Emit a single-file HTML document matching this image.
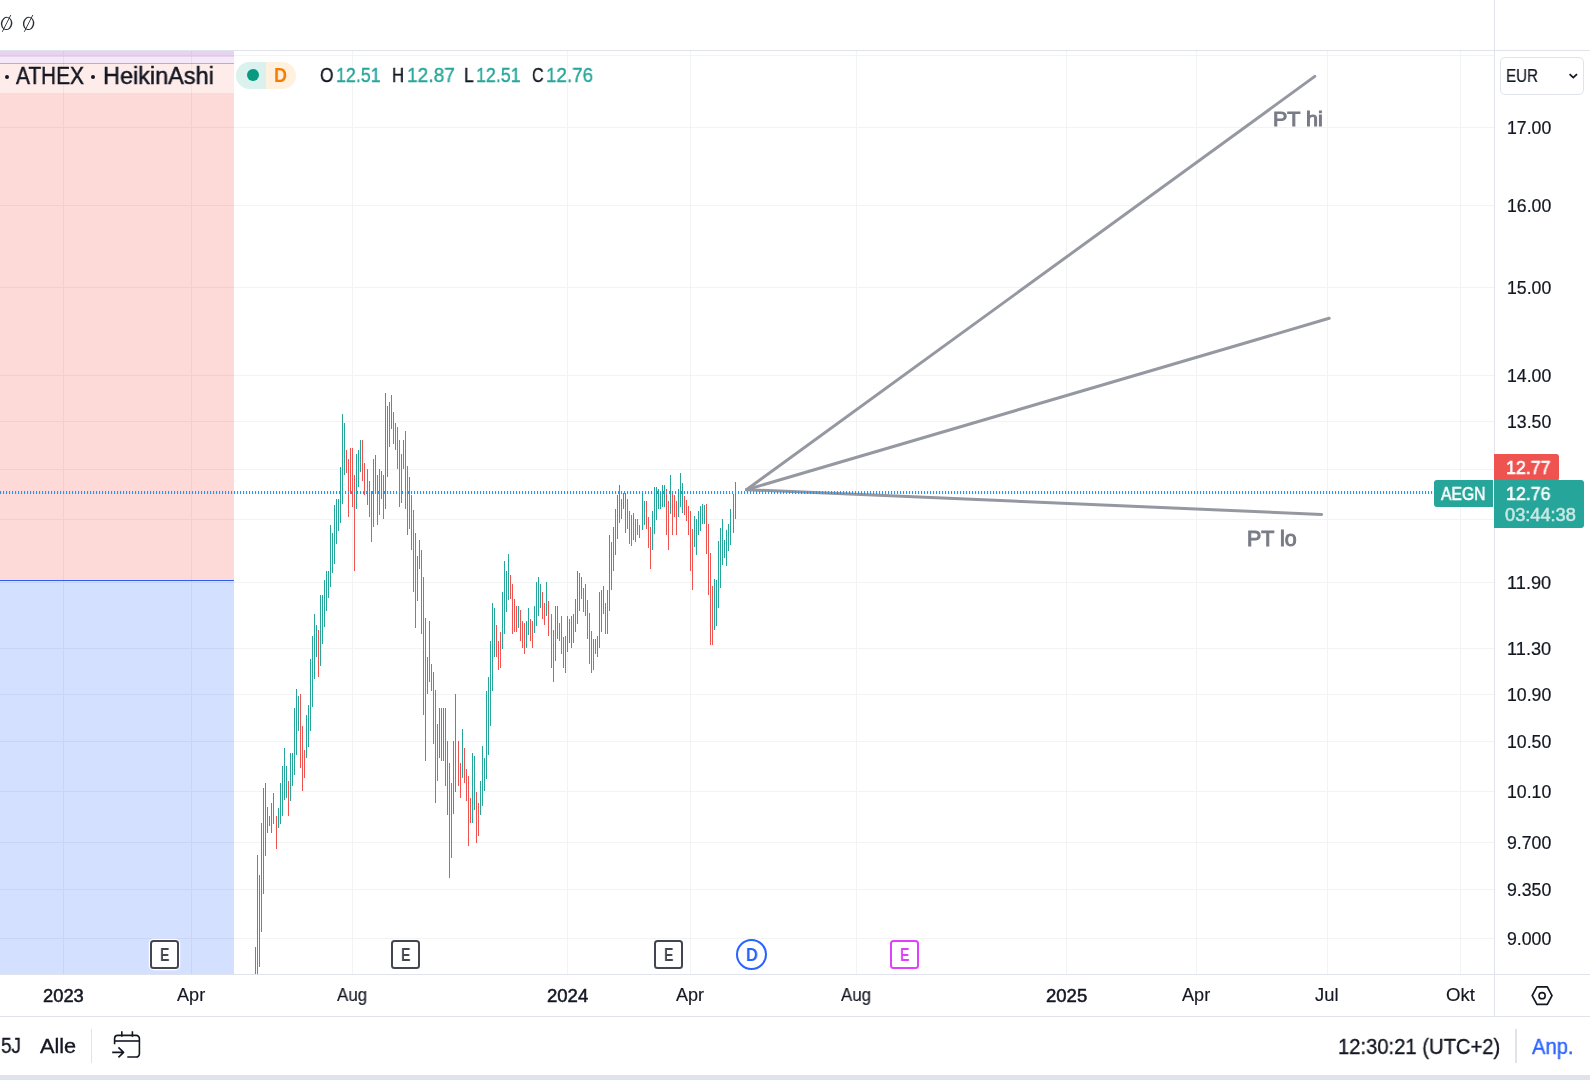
<!DOCTYPE html>
<html><head><meta charset="utf-8"><title>chart</title>
<style>
*{margin:0;padding:0;box-sizing:border-box}
html,body{width:1590px;height:1080px;overflow:hidden;background:#fff}
body{font-family:"Liberation Sans",sans-serif;color:#131722;position:relative}
.t{position:absolute;white-space:nowrap;transform-origin:0 0;will-change:transform}
.chart{position:absolute;left:0;top:51px}
.hl{position:absolute;height:1px;background:#e0e3eb;left:0}
.vl{position:absolute;width:1px;background:#e0e3eb}
.ev{position:absolute;top:940.3px;width:28.5px;height:28.5px;border:2px solid #434651;border-radius:3.5px;background:#fff;box-shadow:0 0 0 1.2px #fff}
</style></head><body>

<svg style="position:absolute;left:0;top:10px" width="40" height="28" viewBox="0 10 40 28"><g transform="rotate(9 6.6 23.4)"><path fill="#2a2e39" fill-rule="evenodd" d="M0.8999999999999995 23.4a5.7 6.6 0 1 0 11.4 0a5.7 6.6 0 1 0 -11.4 0ZM2.3499999999999996 23.4a4.25 5.75 0 1 1 8.5 0a4.25 5.75 0 1 1 -8.5 0Z"/></g><path d="M2.3 31.799999999999997L10.8 14.999999999999998" stroke="#2a2e39" stroke-width="0.9" fill="none"/><g transform="rotate(9 28.6 23.4)"><path fill="#2a2e39" fill-rule="evenodd" d="M22.900000000000002 23.4a5.7 6.6 0 1 0 11.4 0a5.7 6.6 0 1 0 -11.4 0ZM24.35 23.4a4.25 5.75 0 1 1 8.5 0a4.25 5.75 0 1 1 -8.5 0Z"/></g><path d="M24.3 31.799999999999997L32.800000000000004 14.999999999999998" stroke="#2a2e39" stroke-width="0.9" fill="none"/></svg>
<div class="hl" style="top:50px;width:1590px"></div>
<svg class="chart" width="1494" height="923" viewBox="0 51 1494 923">
<rect x="0" y="51" width="234" height="529" fill="#f44336" fill-opacity="0.2"/>
<rect x="0" y="581" width="234" height="393" fill="#2962ff" fill-opacity="0.2"/>
<rect x="0" y="580" width="234" height="1" fill="#2f5ff2"/>
<rect x="0" y="51" width="234" height="6" fill="#e8d3ef"/>
<rect x="0" y="57" width="234" height="6" fill="#f5e8f8"/>
<rect x="0" y="63" width="234" height="1" fill="#f59a94"/>
<rect x="0" y="64" width="234" height="29" fill="#ffffff" fill-opacity="0.5"/>
<path d="M0 55.5H1494M0 127.5H1494M0 205.5H1494M0 287.5H1494M0 375.5H1494M0 421.5H1494M0 469.5H1494M0 519.5H1494M0 582.5H1494M0 648.5H1494M0 694.5H1494M0 741.5H1494M0 791.5H1494M0 842.5H1494M0 889.5H1494M0 938.5H1494M63.5 51V974M191.5 51V974M352.5 51V974M567.5 51V974M690.5 51V974M856.5 51V974M1066.5 51V974M1196.5 51V974M1327.5 51V974M1460.5 51V974" stroke="#2a2e39" stroke-opacity="0.058" stroke-width="1" fill="none" shape-rendering="crispEdges"/>
<path d="M255.5 947V974M257.5 855V974M259.5 875V967M261.5 823V932M263.5 788V894M265.5 783V856M267.5 807V833M269.5 816V826M271.5 803V833M273.5 793V824M278.5 808V828M280.5 783V824M282.5 766V816M284.5 748V800M286.5 766V798M290.5 753V801M292.5 753V786M294.5 708V775M296.5 689V755M298.5 696V731M306.5 715V758M308.5 705V747M310.5 659V731M312.5 636V707M314.5 614V679M316.5 625V657M320.5 595V666M322.5 595V644M324.5 580V627M326.5 571V611M328.5 571V598M330.5 525V587M332.5 533V573M334.5 505V564M336.5 499V544M338.5 499V531M340.5 467V523M342.5 414V504M344.5 423V475M356.5 454V509M358.5 450V487M360.5 440V472M373.5 459V527M375.5 455V492M381.5 471V499M385.5 393V509M387.5 406V477M389.5 402V447M391.5 395V429M403.5 440V469M419.5 540V569M429.5 621V682M439.5 708V758M443.5 708V761M453.5 741V814M455.5 694V792M462.5 729V778M472.5 753V823M474.5 756V810M480.5 781V815M482.5 746V806M484.5 758V791M486.5 691V779M488.5 677V755M490.5 641V726M492.5 603V691M494.5 608V657M502.5 592V649M504.5 561V634M506.5 571V612M508.5 554V600M518.5 606V628M526.5 621V648M528.5 608V635M534.5 606V633M536.5 582V626M538.5 577V616M540.5 584V608M546.5 582V616M555.5 606V661M557.5 606V639M567.5 616V652M569.5 619V643M571.5 616V648M573.5 614V643M575.5 599V632M577.5 571V624M579.5 573V611M581.5 577V599M597.5 636V657M599.5 592V648M601.5 590V632M603.5 586V614M609.5 535V611M611.5 542V590M613.5 527V571M615.5 509V555M617.5 495V539M619.5 485V523M621.5 499V519M623.5 493V509M642.5 492V530M644.5 501V525M652.5 511V550M654.5 487V534M656.5 487V520M658.5 489V509M660.5 492V509M662.5 485V507M664.5 485V507M670.5 475V514M678.5 489V517M680.5 473V507M682.5 483V513M694.5 516V547M696.5 519V555M698.5 511V535M700.5 506V531M702.5 504V524M704.5 505V524M714.5 579V630M716.5 580V626M718.5 541V608M720.5 528V588M722.5 519V565M724.5 540V558M726.5 530V566M728.5 524V551M730.5 509V545M733.5 494V533M735.5 482V519" stroke="#26a69a" stroke-width="1" fill="none" shape-rendering="crispEdges"/>
<path d="M276.5 816V849M288.5 781V816M300.5 694V768M302.5 726V791M304.5 750V778M318.5 630V677M346.5 450V473M348.5 459V517M350.5 448V494M352.5 448V507M354.5 475V571M362.5 440V481M364.5 463V495M367.5 469V505M369.5 481V517M371.5 491V542M377.5 475V525M379.5 469V515M383.5 475V519M393.5 412V444M395.5 423V450M397.5 427V469M399.5 440V507M401.5 454V503M405.5 431V509M407.5 466V535M409.5 477V529M411.5 495V550M413.5 510V592M415.5 533V628M417.5 556V601M421.5 550V634M423.5 577V715M425.5 618V761M427.5 657V694M431.5 664V691M433.5 672V744M435.5 690V803M437.5 724V781M441.5 708V761M445.5 708V786M447.5 741V815M449.5 763V878M451.5 783V858M458.5 741V786M460.5 763V798M464.5 748V783M466.5 769V801M468.5 776V846M470.5 798V823M476.5 792V843M478.5 803V836M496.5 625V657M498.5 641V670M500.5 632V668M510.5 575V599M512.5 584V634M514.5 599V632M516.5 606V632M520.5 610V641M522.5 621V648M524.5 623V654M530.5 619V641M532.5 621V648M542.5 592V619M544.5 603V625M548.5 601V636M551.5 614V668M553.5 630V682M559.5 623V641M561.5 616V654M563.5 637V668M565.5 636V673M583.5 588V612M585.5 584V616M587.5 600V639M589.5 613V664M591.5 631V673M593.5 639V670M595.5 639V654M605.5 603V634M607.5 590V634M625.5 493V533M627.5 499V529M629.5 511V544M631.5 515V546M633.5 513V540M635.5 519V542M637.5 519V535M639.5 525V538M646.5 501V529M648.5 517V548M650.5 527V569M666.5 489V535M668.5 501V550M672.5 494V535M674.5 495V517M676.5 501V535M684.5 496V515M686.5 500V521M688.5 506V535M690.5 511V571M692.5 529V590M706.5 504V554M708.5 524V595M710.5 553V645M712.5 586V645" stroke="#ef5350" stroke-width="1" fill="none" shape-rendering="crispEdges"/>
<g stroke="#9598a1" stroke-width="3" stroke-linecap="round" fill="none"><path d="M746.5 489.7L1314.8 76.4"/><path d="M746.5 489.7L1329.2 318.3"/><path d="M746.5 489.7L1321.6 514.4"/></g>
<defs><pattern id="dp" x="0" y="491" width="3" height="3" patternUnits="userSpaceOnUse"><rect x="0" y="0" width="1.1" height="1" fill="#ef5350"/><rect x="0" y="1" width="1.1" height="1" fill="#2196f3"/><rect x="0" y="2" width="1.1" height="0.9" fill="#149a8c"/></pattern></defs>
<rect x="0" y="491" width="1494" height="3" fill="url(#dp)"/>
</svg>
<div class="vl" style="left:1494px;top:0;height:1016px"></div>
<div class="hl" style="top:974px;width:1590px"></div>
<div class="hl" style="top:1016px;width:1590px"></div>
<div style="position:absolute;left:0;top:1075px;width:1590px;height:5px;background:#e0e3eb"></div>
<div style="position:absolute;left:5.3px;top:74.8px;width:4.2px;height:4.2px;border-radius:50%;background:#131722"></div>
<div style="position:absolute;left:90.8px;top:74.8px;width:4.2px;height:4.2px;border-radius:50%;background:#131722"></div>
<div class="t" style="left:16.40px;top:63.93px;font-size:24.42px;line-height:24.42px;color:#131722;transform:scaleX(0.8542);-webkit-text-stroke:0.5px #131722;">ATHEX</div>
<div class="t" style="left:102.70px;top:63.93px;font-size:24.42px;line-height:24.42px;color:#131722;transform:scaleX(0.9614);-webkit-text-stroke:0.5px #131722;">HeikinAshi</div>
<div style="position:absolute;left:236px;top:62px;width:59.5px;height:27px;border-radius:13.5px;overflow:hidden;background:linear-gradient(90deg,#daf1ed 0,#daf1ed 30px,#fff1de 30px,#fff1de 60px)"><span style="position:absolute;left:10.7px;top:7px;width:12px;height:12px;border-radius:6px;background:#089981"></span></div>
<div class="t" style="left:274.00px;top:66.21px;font-size:19.48px;line-height:19.48px;color:#f57c00;font-weight:bold;transform:scaleX(0.9245);">D</div>
<div class="t" style="left:320.20px;top:66.14px;font-size:19.91px;line-height:19.91px;color:#131722;transform:scaleX(0.8714);-webkit-text-stroke:0.4px #131722;">O</div>
<div class="t" style="left:336.30px;top:66.14px;font-size:19.91px;line-height:19.91px;color:#26a69a;transform:scaleX(0.8952);-webkit-text-stroke:0.4px #26a69a;">12.51</div>
<div class="t" style="left:392.40px;top:66.14px;font-size:19.91px;line-height:19.91px;color:#131722;transform:scaleX(0.8416);-webkit-text-stroke:0.4px #131722;">H</div>
<div class="t" style="left:407.00px;top:66.14px;font-size:19.91px;line-height:19.91px;color:#26a69a;transform:scaleX(0.9614);-webkit-text-stroke:0.4px #26a69a;">12.87</div>
<div class="t" style="left:464.00px;top:66.14px;font-size:19.91px;line-height:19.91px;color:#131722;transform:scaleX(0.8761);-webkit-text-stroke:0.4px #131722;">L</div>
<div class="t" style="left:476.30px;top:66.14px;font-size:19.91px;line-height:19.91px;color:#26a69a;transform:scaleX(0.8952);-webkit-text-stroke:0.4px #26a69a;">12.51</div>
<div class="t" style="left:531.90px;top:66.14px;font-size:19.91px;line-height:19.91px;color:#131722;transform:scaleX(0.8068);-webkit-text-stroke:0.4px #131722;">C</div>
<div class="t" style="left:546.10px;top:66.14px;font-size:19.91px;line-height:19.91px;color:#26a69a;transform:scaleX(0.9434);-webkit-text-stroke:0.4px #26a69a;">12.76</div>
<div style="position:absolute;left:1500px;top:57px;width:84px;height:38px;border:1px solid #e0e3eb;border-radius:5px"></div>
<div class="t" style="left:1505.80px;top:66.63px;font-size:18.75px;line-height:18.75px;color:#131722;transform:scaleX(0.8085);-webkit-text-stroke:0.2px #131722;">EUR</div>
<svg style="position:absolute;left:1566px;top:70px" width="14" height="12" viewBox="1566 70 14 12"><path d="M1569.6 74.2L1573.3 77.6L1577 74.2" stroke="#131722" stroke-width="1.8" fill="none"/></svg>
<div class="t" style="left:1506.70px;top:120.20px;font-size:17.71px;line-height:17.71px;color:#131722;transform:scaleX(0.9995);-webkit-text-stroke:0.2px #131722;">17.00</div>
<div class="t" style="left:1506.70px;top:198.20px;font-size:17.71px;line-height:17.71px;color:#131722;transform:scaleX(0.9995);-webkit-text-stroke:0.2px #131722;">16.00</div>
<div class="t" style="left:1506.70px;top:280.20px;font-size:17.71px;line-height:17.71px;color:#131722;transform:scaleX(0.9995);-webkit-text-stroke:0.2px #131722;">15.00</div>
<div class="t" style="left:1506.70px;top:368.20px;font-size:17.71px;line-height:17.71px;color:#131722;transform:scaleX(0.9995);-webkit-text-stroke:0.2px #131722;">14.00</div>
<div class="t" style="left:1506.70px;top:414.20px;font-size:17.71px;line-height:17.71px;color:#131722;transform:scaleX(0.9995);-webkit-text-stroke:0.2px #131722;">13.50</div>
<div class="t" style="left:1506.70px;top:575.20px;font-size:17.71px;line-height:17.71px;color:#131722;transform:scaleX(1.0300);-webkit-text-stroke:0.2px #131722;">11.90</div>
<div class="t" style="left:1506.70px;top:641.20px;font-size:17.71px;line-height:17.71px;color:#131722;transform:scaleX(1.0300);-webkit-text-stroke:0.2px #131722;">11.30</div>
<div class="t" style="left:1506.70px;top:687.20px;font-size:17.71px;line-height:17.71px;color:#131722;transform:scaleX(0.9995);-webkit-text-stroke:0.2px #131722;">10.90</div>
<div class="t" style="left:1506.70px;top:734.20px;font-size:17.71px;line-height:17.71px;color:#131722;transform:scaleX(0.9995);-webkit-text-stroke:0.2px #131722;">10.50</div>
<div class="t" style="left:1506.70px;top:784.20px;font-size:17.71px;line-height:17.71px;color:#131722;transform:scaleX(0.9995);-webkit-text-stroke:0.2px #131722;">10.10</div>
<div class="t" style="left:1506.70px;top:835.20px;font-size:17.71px;line-height:17.71px;color:#131722;transform:scaleX(0.9995);-webkit-text-stroke:0.2px #131722;">9.700</div>
<div class="t" style="left:1506.70px;top:882.20px;font-size:17.71px;line-height:17.71px;color:#131722;transform:scaleX(0.9995);-webkit-text-stroke:0.2px #131722;">9.350</div>
<div class="t" style="left:1506.70px;top:931.20px;font-size:17.71px;line-height:17.71px;color:#131722;transform:scaleX(0.9995);-webkit-text-stroke:0.2px #131722;">9.000</div>
<div style="position:absolute;left:1494px;top:454px;width:65px;height:27px;background:#ef5350;border-radius:0 3px 3px 0"></div>
<div style="position:absolute;left:1494px;top:480px;width:90px;height:48px;background:#26a69a;border-radius:0 3px 3px 0"></div>
<div style="position:absolute;left:1434px;top:480px;width:59px;height:27px;background:#26a69a;border-radius:3px 0 0 3px"></div>
<div class="t" style="left:1506.40px;top:459.36px;font-size:18.00px;line-height:18.00px;color:#fff;transform:scaleX(0.9881);-webkit-text-stroke:0.55px #fff;">12.77</div>
<div class="t" style="left:1441.30px;top:484.80px;font-size:18.31px;line-height:18.31px;color:#fff;transform:scaleX(0.8555);-webkit-text-stroke:0.55px #fff;">AEGN</div>
<div class="t" style="left:1506.40px;top:485.06px;font-size:18.00px;line-height:18.00px;color:#fff;transform:scaleX(0.9881);-webkit-text-stroke:0.55px #fff;">12.76</div>
<div class="t" style="left:1505.40px;top:506.85px;font-size:17.43px;line-height:17.43px;color:#c8e8e4;transform:scaleX(1.0450);-webkit-text-stroke:0.5px #c8e8e4;">03:44:38</div>
<div class="t" style="left:1273.00px;top:108.78px;font-size:20.93px;line-height:20.93px;color:#787b86;transform:scaleX(1.0294);-webkit-text-stroke:1.0px #787b86;">PT hi</div>
<div class="t" style="left:1247.40px;top:527.94px;font-size:21.22px;line-height:21.22px;color:#787b86;transform:scaleX(1.0092);-webkit-text-stroke:1.0px #787b86;">PT lo</div>
<div class="ev" style="left:150.40px"></div>
<div class="t" style="left:159.95px;top:945.85px;font-size:18.60px;line-height:18.60px;color:#434651;font-weight:bold;transform:scaleX(0.7656);">E</div>
<div class="ev" style="left:391.25px"></div>
<div class="t" style="left:400.80px;top:945.85px;font-size:18.60px;line-height:18.60px;color:#434651;font-weight:bold;transform:scaleX(0.7656);">E</div>
<div class="ev" style="left:654.20px"></div>
<div class="t" style="left:663.75px;top:945.85px;font-size:18.60px;line-height:18.60px;color:#434651;font-weight:bold;transform:scaleX(0.7656);">E</div>
<div class="ev" style="left:890.15px;border-color:#e040fb"></div>
<div class="t" style="left:899.70px;top:945.85px;font-size:18.60px;line-height:18.60px;color:#e040fb;font-weight:bold;transform:scaleX(0.7656);">E</div>
<div style="position:absolute;left:736px;top:938.8px;width:31px;height:31px;border:2px solid #2962ff;border-radius:16px;background:#fff"></div>
<div class="t" style="left:745.70px;top:945.85px;font-size:18.60px;line-height:18.60px;color:#2962ff;font-weight:bold;transform:scaleX(0.8859);">D</div>
<div class="t" style="left:42.60px;top:987.53px;font-size:17.57px;line-height:17.57px;color:#131722;transform:scaleX(1.0436);-webkit-text-stroke:0.5px #131722;">2023</div>
<div class="t" style="left:176.60px;top:987.27px;font-size:17.88px;line-height:17.88px;color:#131722;transform:scaleX(1.0137);-webkit-text-stroke:0.15px #131722;">Apr</div>
<div class="t" style="left:337.40px;top:987.27px;font-size:17.88px;line-height:17.88px;color:#131722;transform:scaleX(0.9495);-webkit-text-stroke:0.15px #131722;">Aug</div>
<div class="t" style="left:546.80px;top:987.53px;font-size:17.57px;line-height:17.57px;color:#131722;transform:scaleX(1.0538);-webkit-text-stroke:0.5px #131722;">2024</div>
<div class="t" style="left:676.10px;top:987.27px;font-size:17.88px;line-height:17.88px;color:#131722;transform:scaleX(1.0101);-webkit-text-stroke:0.15px #131722;">Apr</div>
<div class="t" style="left:840.70px;top:987.27px;font-size:17.88px;line-height:17.88px;color:#131722;transform:scaleX(0.9464);-webkit-text-stroke:0.15px #131722;">Aug</div>
<div class="t" style="left:1045.80px;top:987.53px;font-size:17.57px;line-height:17.57px;color:#131722;transform:scaleX(1.0538);-webkit-text-stroke:0.5px #131722;">2025</div>
<div class="t" style="left:1182.10px;top:987.27px;font-size:17.88px;line-height:17.88px;color:#131722;transform:scaleX(1.0137);-webkit-text-stroke:0.15px #131722;">Apr</div>
<div class="t" style="left:1315.20px;top:987.27px;font-size:17.88px;line-height:17.88px;color:#131722;transform:scaleX(1.0285);-webkit-text-stroke:0.15px #131722;">Jul</div>
<div class="t" style="left:1445.80px;top:987.27px;font-size:17.88px;line-height:17.88px;color:#131722;transform:scaleX(1.0425);-webkit-text-stroke:0.15px #131722;">Okt</div>
<svg style="position:absolute;left:1528px;top:983px" width="28" height="26" viewBox="1528 983 28 26"><path d="M1536.9 986.9L1547.3 986.9L1552 995.6L1547.3 1004.3L1536.9 1004.3L1532.2 995.6Z" stroke="#131722" stroke-width="1.7" fill="none" stroke-linejoin="round"/><circle cx="1542.1" cy="995.7" r="3.1" stroke="#131722" stroke-width="1.6" fill="none"/></svg>
<div class="t" style="left:1.20px;top:1035.14px;font-size:21.80px;line-height:21.80px;color:#131722;transform:scaleX(0.8687);-webkit-text-stroke:0.35px #131722;">5J</div>
<div class="t" style="left:39.70px;top:1035.06px;font-size:21.08px;line-height:21.08px;color:#131722;transform:scaleX(1.0298);-webkit-text-stroke:0.35px #131722;">Alle</div>
<div class="vl" style="left:91px;top:1029px;height:34px"></div>
<svg style="position:absolute;left:108px;top:1028px" width="36" height="34" viewBox="108 1028 36 34"><g stroke="#131722" stroke-width="1.6" fill="none" stroke-linecap="butt" stroke-linejoin="round"><path d="M114.6 1044.2V1038.6a3.2 3.2 0 0 1 3.2-3.2h18.4a3.2 3.2 0 0 1 3.2 3.2v15.2a3.2 3.2 0 0 1-3.2 3.2H127.3"/><path d="M114.6 1041h24.8"/><path d="M121.8 1031.3v5.4M132.4 1031.3v5.4"/><path d="M112.2 1052.4h11M118.4 1047.4l5.2 5l-5.2 5"/></g></svg>
<div class="t" style="left:1337.60px;top:1035.64px;font-size:21.22px;line-height:21.22px;color:#131722;transform:scaleX(0.9522);-webkit-text-stroke:0.35px #131722;">12:30:21 (UTC+2)</div>
<div class="vl" style="left:1515px;top:1029px;height:34px;width:1.5px"></div>
<div class="t" style="left:1531.90px;top:1035.64px;font-size:21.22px;line-height:21.22px;color:#2962ff;transform:scaleX(0.9507);-webkit-text-stroke:0.35px #2962ff;">Anp.</div>
</body></html>
